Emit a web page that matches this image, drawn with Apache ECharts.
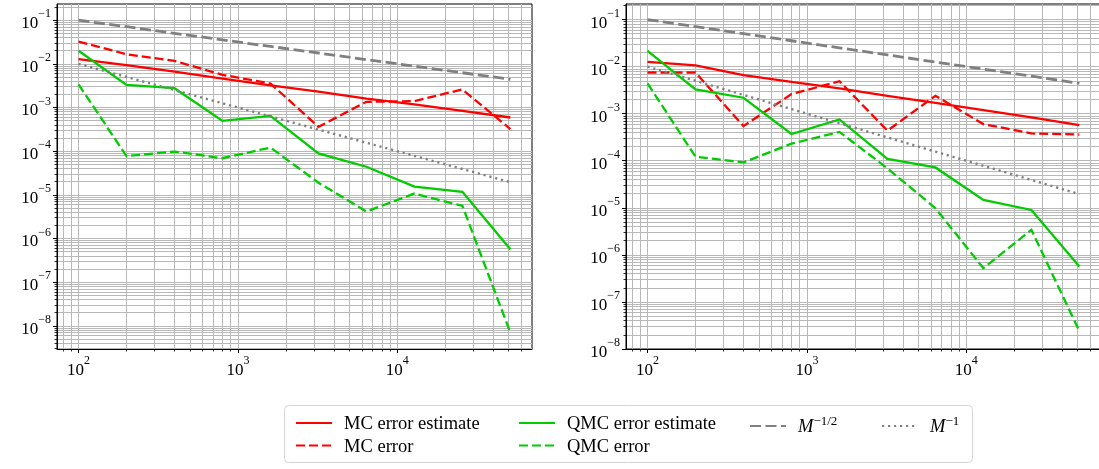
<!DOCTYPE html>
<html><head><meta charset="utf-8">
<script src="https://cdn.jsdelivr.net/npm/echarts@6/dist/echarts.min.js"></script>
<style>html,body{margin:0;padding:0;background:#fff}#c{width:1099px;height:469px}</style>
</head><body><div id="c"></div>
<script>
// ---- data ----
const M = [100, 200, 400, 800, 1600, 3200, 6400, 12800, 25600, 51200];
const xTickExps = [2, 3, 4];
const yTickExps = [-8, -7, -6, -5, -4, -3, -2, -1];

const leftMcEst  = [0.0128, 0.0093, 0.0066, 0.0046, 0.0032, 0.0023, 0.0016, 0.00118, 0.00084, 0.00059];
const leftMcErr  = [0.0324, 0.0166, 0.0117, 0.0056, 0.00355, 0.00036, 0.00135, 0.0014, 0.0026, 0.00032];
const leftQmcEst = [0.0199, 0.0033, 0.00277, 0.000495, 0.00064, 0.000089, 0.000044, 0.0000155, 0.0000117, 0.00000057];
const leftQmcErr = [0.0034, 0.000077, 0.000098, 0.000069, 0.000121, 0.000019, 0.00000415, 0.0000107, 0.0000056, 0.000000007];

const rightMcEst  = [0.0126, 0.0106, 0.0066, 0.00476, 0.00344, 0.0024, 0.0017, 0.00119, 0.00083, 0.00057];
const rightMcErr  = [0.0075, 0.0075, 0.000545, 0.0026, 0.0049, 0.000435, 0.0024, 0.0006, 0.00038, 0.00036];
const rightQmcEst = [0.0216, 0.00327, 0.00218, 0.00037, 0.000755, 0.000109, 0.000072, 0.0000147, 0.000009, 0.000000565];
const rightQmcErr = [0.0044, 0.000122, 0.000092, 0.00023, 0.00041, 0.000069, 0.0000098, 0.00000052, 0.0000034, 0.000000024];

const refHalf = [0.1, 0.0707, 0.05, 0.0354, 0.025, 0.0177, 0.0125, 0.00884, 0.00625, 0.00442];
const refOne  = [0.01, 0.005, 0.0025, 0.00125, 0.000625, 0.000313, 0.000156, 0.0000781, 0.0000391, 0.0000195];

const names = ['MC error estimate', 'MC error', 'QMC error estimate', 'QMC error', 'M^-1/2', 'M^-1'];

// ---- layout / style ----
const FONT = 'Liberation Serif';
const xLim = [1.865, 4.845];
const yLims = [[-8.53, -0.63], [-8.0, -0.67]];
const grids = [
  {left: 57, top: 4, width: 475, height: 345},
  {left: 626, top: 4, width: 475, height: 345}
];
const RED = '#ff0000', GREEN = '#00cc00', GRAY = '#808080';
const styles = [
  {color: RED, width: 2.3, type: 'solid'},
  {color: RED, width: 2.3, type: [9, 4]},
  {color: GREEN, width: 2.3, type: 'solid'},
  {color: GREEN, width: 2.3, type: [9, 4]},
  {color: GRAY, width: 2.8, type: [11, 4.5]},
  {color: GRAY, width: 2.4, type: [2.2, 3.8]}
];

function minorExps(lo, hi) {
  const out = [];
  for (let n = Math.floor(lo) - 1; n <= Math.ceil(hi); n++) {
    for (let k = 2; k <= 9; k++) {
      const v = n + Math.log10(k);
      if (v > lo && v < hi) out.push(v);
    }
  }
  return out;
}
const gridLine = {show: true, lineStyle: {color: '#b8b8b8', width: 1}};
const rich = {
  b: {fontFamily: FONT, fontSize: 17, color: '#000', lineHeight: 24, verticalAlign: 'bottom'},
  s: {fontFamily: FONT, fontSize: 12, color: '#000', lineHeight: 12, verticalAlign: 'top'}
};
function expLabel(v) {
  const e = Math.round(v);
  return '{b|10}{s|' + String(e).replace('-', '\u2212') + '}';
}

const xAxes = [], yAxes = [];
grids.forEach((g, gi) => {
  const yl = yLims[gi];
  xAxes.push({
    type: 'value', gridIndex: gi, position: 'bottom', min: xLim[0], max: xLim[1],
    axisLine: {show: true, onZero: false, lineStyle: {color: '#000', width: 1}},
    axisTick: {show: true, length: 4, lineStyle: {color: '#000', width: 1}, customValues: xTickExps},
    axisLabel: {show: true, margin: 6, formatter: expLabel, rich: rich, customValues: xTickExps},
    splitLine: gridLine
  });
  xAxes.push({
    type: 'value', gridIndex: gi, position: 'bottom', min: xLim[0], max: xLim[1],
    axisLine: {show: false, onZero: false},
    axisTick: {show: true, length: 2.5, lineStyle: {color: '#000', width: 0.8}, customValues: minorExps(xLim[0], xLim[1])},
    axisLabel: {show: false},
    splitLine: gridLine
  });
  yAxes.push({
    type: 'value', gridIndex: gi, position: 'left', min: yl[0], max: yl[1],
    axisLine: {show: true, onZero: false, lineStyle: {color: '#000', width: 1}},
    axisTick: {show: true, length: 4, lineStyle: {color: '#000', width: 1}, customValues: yTickExps},
    axisLabel: {show: true, margin: 6, formatter: expLabel, rich: rich, customValues: yTickExps},
    splitLine: gridLine
  });
  yAxes.push({
    type: 'value', gridIndex: gi, position: 'left', min: yl[0], max: yl[1],
    axisLine: {show: false, onZero: false},
    axisTick: {show: true, length: 2.5, lineStyle: {color: '#000', width: 0.8}, customValues: minorExps(yl[0], yl[1])},
    axisLabel: {show: false},
    splitLine: gridLine
  });
});

const panelData = [
  [leftMcEst, leftMcErr, leftQmcEst, leftQmcErr, refHalf, refOne],
  [rightMcEst, rightMcErr, rightQmcEst, rightQmcErr, refHalf, refOne]
];
const series = [];
panelData.forEach((arrs, gi) => {
  arrs.forEach((vals, si) => {
    series.push({
      type: 'line', name: names[si], xAxisIndex: 2 * gi, yAxisIndex: 2 * gi,
      data: M.map((m, i) => [Math.log10(m), Math.log10(vals[i])]),
      symbol: 'none', showSymbol: false, smooth: false, z: 3 + si,
      color: styles[si].color,
      lineStyle: {color: styles[si].color, width: styles[si].width, type: styles[si].type, cap: 'butt', join: 'miter'},
      emphasis: {disabled: true}, silent: true, animation: false
    });
  });
});

const LFS = 18.5;
const legendRich = {
  n: {fontFamily: FONT, fontSize: LFS, color: '#000', lineHeight: 22, verticalAlign: 'bottom'},
  it: {fontFamily: FONT, fontSize: LFS, fontStyle: 'italic', color: '#000', lineHeight: 22, verticalAlign: 'bottom'},
  s: {fontFamily: FONT, fontSize: 13, color: '#000', lineHeight: 13, verticalAlign: 'top'}
};
function legendFmt(name) {
  if (name === 'M^-1/2') return '{it|M}{s|\u22121/2}';
  if (name === 'M^-1') return '{it|M}{s|\u22121}';
  return '{n|' + name + '}';
}
function mkLegend(data, left) {
  return {
    data: data, orient: 'vertical', left: left, top: 410, itemGap: 3.5,
    itemWidth: 36, itemHeight: 14, selectedMode: false,
    itemStyle: {opacity: 0},
    formatter: legendFmt,
    textStyle: {rich: legendRich, padding: [0, 0, 0, 7]}
  };
}

const chart = echarts.init(document.getElementById('c'), null, {renderer: 'canvas'});
chart.setOption({
  animation: false,
  backgroundColor: '#fff',
  grid: grids.map(g => Object.assign({show: true, borderColor: '#000', borderWidth: 1, backgroundColor: 'transparent', containLabel: false, outerBoundsMode: 'none'}, g)),
  xAxis: xAxes,
  yAxis: yAxes,
  legend: [
    mkLegend(['MC error estimate', 'MC error'], 290),
    mkLegend(['QMC error estimate', 'QMC error'], 513),
    mkLegend(['M^-1/2'], 744),
    mkLegend(['M^-1'], 876)
  ],
  graphic: [{
    type: 'rect', z: 1, silent: true,
    shape: {x: 284.5, y: 405.5, width: 688, height: 57, r: 4},
    style: {fill: '#fff', stroke: '#d4d4d4', lineWidth: 1}
  }],
  series: series
});
</script></body></html>
